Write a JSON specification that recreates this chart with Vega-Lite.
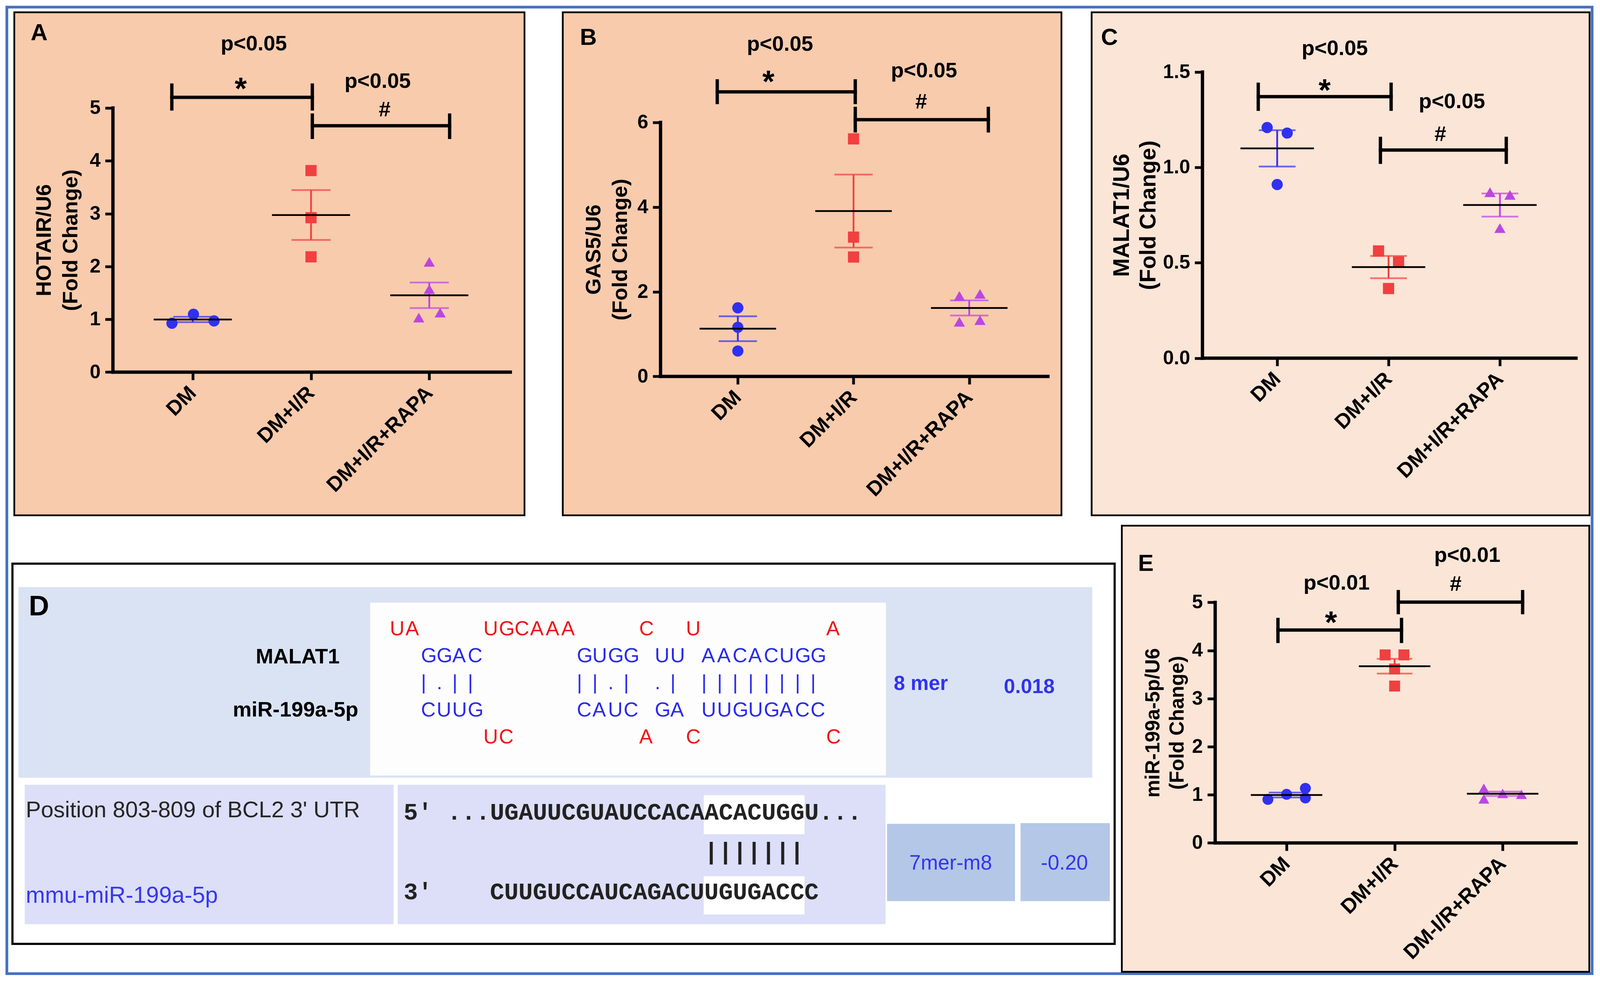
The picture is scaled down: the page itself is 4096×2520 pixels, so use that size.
{
"$schema": "https://vega.github.io/schema/vega-lite/v6.json",
"background": "white",
"padding": {"left": 13.6, "top": 14.6, "right": 4, "bottom": 4},
"bounds": "flush",
"columns": 3,
"align": "each",
"spacing": {"row": 25.7, "column": 77},
"config": {
  "font": "Liberation Sans",
  "view": {"stroke": "black", "strokeWidth": 4.5},
  "axis": {"domain": false, "grid": false, "labelFont": "Liberation Sans", "labelFontWeight": "bold", "labelFontSize": 50, "labelColor": "black", "labelLimit": 0, "tickColor": "black", "tickWidth": 7, "tickSize": 20, "labelPadding": 12, "titleFont": "Liberation Sans", "titleFontWeight": "bold", "titleFontSize": 54, "titleColor": "black", "titleLineHeight": 68, "labelOverlap": false, "labelBound": false, "labelFlush": false},
  "axisX": {"labelAngle": -45, "labelAlign": "right", "labelBaseline": "middle", "labelFontSize": 53, "labelPadding": 25},
  "axisY": {"titleAngle": -90, "titleAlign": "center", "titleBaseline": "middle"}
},
"concat": [
{
  "width": 1306.1, "height": 1288.1,
  "view": {"fill": "#F8CBAD"},
  "data": {"values": [
      {"g":"DM","gx":1,"px":0.824,"v":0.925},{"g":"DM","gx":1,"px":1.006,"v":1.095},{"g":"DM","gx":1,"px":1.18,"v":0.969},
      {"g":"DM+I/R","gx":2,"px":2.0,"v":3.815},{"g":"DM+I/R","gx":2,"px":2.0,"v":2.923},{"g":"DM+I/R","gx":2,"px":2.0,"v":2.182},
      {"g":"DM+I/R+RAPA","gx":3,"px":3.0,"v":2.087},{"g":"DM+I/R+RAPA","gx":3,"px":3.0,"v":1.572},{"g":"DM+I/R+RAPA","gx":3,"px":2.911,"v":1.032},{"g":"DM+I/R+RAPA","gx":3,"px":3.092,"v":1.126}]},
  "layer": [
    {"mark": {"type": "point", "filled": true, "opacity": 1, "size": 820, "strokeWidth": 0},
     "encoding": {
      "x": {"field": "px", "type": "quantitative", "scale": {"domain": [-0.509, 3.805], "nice": false, "zero": false}, "axis": {"values": [1,2,3], "labelExpr": "datum.value == 1 ? 'DM' : datum.value == 2 ? 'DM+I/R' : 'DM+I/R+RAPA'", "offset": -366.7, "title": null}},
      "y": {"field": "v", "type": "quantitative", "scale": {"domain": [-2.71, 6.81], "nice": false, "zero": false}},
      "color": {"field": "g", "type": "nominal", "scale": {"domain": ["DM","DM+I/R","DM+I/R+RAPA"], "range": ["#3030F0","#F04040","#BC46E2"]}, "legend": null},
      "shape": {"field": "g", "type": "nominal", "scale": {"domain": ["DM","DM+I/R","DM+I/R+RAPA"], "range": ["circle","square","triangle-up"]}, "legend": null}}},
    {"mark": {"type": "errorbar", "extent": "stderr", "orient": "vertical", "ticks": true, "size": 100, "thickness": 4.5},
     "encoding": {"x": {"field": "gx", "type": "quantitative"}, "y": {"field": "v", "type": "quantitative", "axis": {"values": [0,1,2,3,4,5], "format": "d", "offset": -252.5, "title": ["HOTAIR/U6", "(Fold  Change)"], "titleX": -176, "titleY": 583.1}}, "color": {"field": "g", "type": "nominal", "legend": null}}},
    {"mark": {"type": "tick", "orient": "horizontal", "size": 200, "thickness": 4.5, "color": "black"},
     "encoding": {"x": {"field": "gx", "type": "quantitative"}, "y": {"aggregate": "mean", "field": "v", "type": "quantitative"}}},
    {"data": {"values": [
      {"x":0.325,"x2":0.325,"y":0,"y2":5},{"x":0.325,"x2":3.685,"y":0,"y2":0},
      {"x":0.823,"x2":2.011,"y":5.202,"y2":5.202},{"x":0.823,"x2":0.823,"y":4.982,"y2":5.433},{"x":2.011,"x2":2.011,"y":4.982,"y2":5.433},
      {"x":2.011,"x2":3.172,"y":4.664,"y2":4.664},{"x":2.011,"x2":2.011,"y":4.444,"y2":4.865},{"x":3.172,"x2":3.172,"y":4.444,"y2":4.865}]},
     "mark": {"type": "rule", "color": "black", "strokeWidth": 8.5, "strokeCap": "square"},
     "encoding": {"x": {"field": "x", "type": "quantitative"}, "x2": {"field": "x2"}, "y": {"field": "y", "type": "quantitative"}, "y2": {"field": "y2"}}},
    {"data": {"values": [{"x":1.516,"y":6.207,"t":"p<0.05"},{"x":2.563,"y":5.496,"t":"p<0.05"},{"x":2.623,"y":4.96,"t":"#"}]},
     "mark": {"type": "text", "fontSize": 54, "fontWeight": "bold", "color": "black", "align": "center", "baseline": "middle"},
     "encoding": {"x": {"field": "x", "type": "quantitative"}, "y": {"field": "y", "type": "quantitative"}, "text": {"field": "t"}}},
    {"data": {"values": [{"x":1.406,"y":5.347,"t":"*"}]},
     "mark": {"type": "text", "fontSize": 80, "fontWeight": "bold", "color": "black", "align": "center", "baseline": "middle"},
     "encoding": {"x": {"field": "x", "type": "quantitative"}, "y": {"field": "y", "type": "quantitative"}, "text": {"field": "t"}}},
    {"data": {"values": [{"x":-0.299,"y":6.418,"t":"A"}]},
     "mark": {"type": "text", "fontSize": 60, "fontWeight": "bold", "color": "black", "align": "center", "baseline": "middle"},
     "encoding": {"x": {"field": "x", "type": "quantitative"}, "y": {"field": "y", "type": "quantitative"}, "text": {"field": "t"}}}
  ]
},
{
  "width": 1296.7, "height": 1288.1,
  "view": {"stroke": null},
  "data": {"values": [
      {"g":"DM","gx":1,"px":1.0,"v":1.62},{"g":"DM","gx":1,"px":1.0,"v":1.16},{"g":"DM","gx":1,"px":1.0,"v":0.60},
      {"g":"DM+I/R","gx":2,"px":2.0,"v":5.61},{"g":"DM+I/R","gx":2,"px":2.0,"v":3.29},{"g":"DM+I/R","gx":2,"px":2.0,"v":2.82},
      {"g":"DM+I/R+RAPA","gx":3,"px":2.915,"v":1.90},{"g":"DM+I/R+RAPA","gx":3,"px":3.093,"v":1.95},{"g":"DM+I/R+RAPA","gx":3,"px":2.915,"v":1.29},{"g":"DM+I/R+RAPA","gx":3,"px":3.093,"v":1.33}]},
  "layer": [
    {"data": {"values": [{"x": -0.513, "x2": 3.797, "y": -3.28, "y2": 8.599}]},
     "mark": {"type": "rect", "fill": "#F8CBAD", "stroke": "black", "strokeWidth": 4.5},
     "encoding": {"x": {"field": "x", "type": "quantitative"}, "x2": {"field": "x2"}, "y": {"field": "y", "type": "quantitative"}, "y2": {"field": "y2"}}},
    {"mark": {"type": "point", "filled": true, "opacity": 1, "size": 820, "strokeWidth": 0},
     "encoding": {
      "x": {"field": "px", "type": "quantitative", "scale": {"domain": [-0.5809, 3.797], "nice": false, "zero": false}, "axis": {"zindex": 2, "values": [1,2,3], "labelExpr": "datum.value == 1 ? 'DM' : datum.value == 2 ? 'DM+I/R' : 'DM+I/R+RAPA'", "offset": -355.6, "title": null}},
      "y": {"field": "v", "type": "quantitative", "scale": {"domain": [-3.28, 8.599], "nice": false, "zero": false}},
      "color": {"field": "g", "type": "nominal", "scale": {"domain": ["DM","DM+I/R","DM+I/R+RAPA"], "range": ["#3030F0","#F04040","#BC46E2"]}, "legend": null},
      "shape": {"field": "g", "type": "nominal", "scale": {"domain": ["DM","DM+I/R","DM+I/R+RAPA"], "range": ["circle","square","triangle-up"]}, "legend": null}}},
    {"mark": {"type": "errorbar", "extent": "stderr", "orient": "vertical", "ticks": true, "size": 98, "thickness": 4.5},
     "encoding": {"x": {"field": "gx", "type": "quantitative"}, "y": {"field": "v", "type": "quantitative", "axis": {"zindex": 2, "values": [0,2,4,6], "format": "d", "offset": -270.4, "title": ["GAS5/U6", "(Fold  Change)"], "titleX": -170, "titleY": 607.2}}, "color": {"field": "g", "type": "nominal", "legend": null}}},
    {"mark": {"type": "tick", "orient": "horizontal", "size": 196, "thickness": 4.5, "color": "black"},
     "encoding": {"x": {"field": "gx", "type": "quantitative"}, "y": {"aggregate": "mean", "field": "v", "type": "quantitative"}}},
    {"data": {"values": [
      {"x":0.332,"x2":0.332,"y":0,"y2":6},{"x":0.332,"x2":3.68,"y":0,"y2":0},
      {"x":0.822,"x2":2.015,"y":6.722,"y2":6.722},{"x":0.822,"x2":0.822,"y":6.47,"y2":6.98},{"x":2.015,"x2":2.015,"y":6.47,"y2":6.98},
      {"x":2.015,"x2":3.165,"y":6.063,"y2":6.063},{"x":2.015,"x2":2.015,"y":5.80,"y2":6.33},{"x":3.165,"x2":3.165,"y":5.80,"y2":6.33}]},
     "mark": {"type": "rule", "color": "black", "strokeWidth": 8.5, "strokeCap": "square"},
     "encoding": {"x": {"field": "x", "type": "quantitative"}, "x2": {"field": "x2"}, "y": {"field": "y", "type": "quantitative"}, "y2": {"field": "y2"}}},
    {"data": {"values": [{"x":1.364,"y":7.835,"t":"p<0.05"},{"x":2.609,"y":7.216,"t":"p<0.05"},{"x":2.585,"y":6.47,"t":"#"}]},
     "mark": {"type": "text", "fontSize": 54, "fontWeight": "bold", "color": "black", "align": "center", "baseline": "middle"},
     "encoding": {"x": {"field": "x", "type": "quantitative"}, "y": {"field": "y", "type": "quantitative"}, "text": {"field": "t"}}},
    {"data": {"values": [{"x":1.264,"y":6.934,"t":"*"}]},
     "mark": {"type": "text", "fontSize": 80, "fontWeight": "bold", "color": "black", "align": "center", "baseline": "middle"},
     "encoding": {"x": {"field": "x", "type": "quantitative"}, "y": {"field": "y", "type": "quantitative"}, "text": {"field": "t"}}},
    {"data": {"values": [{"x":-0.292,"y":8.0,"t":"B"}]},
     "mark": {"type": "text", "fontSize": 60, "fontWeight": "bold", "color": "black", "align": "center", "baseline": "middle"},
     "encoding": {"x": {"field": "x", "type": "quantitative"}, "y": {"field": "y", "type": "quantitative"}, "text": {"field": "t"}}}
  ]
},
{
  "width": 1274.7, "height": 1288.1,
  "view": {"fill": "#FBE5D6"},
  "data": {"values": [
      {"g":"DM","gx":1,"px":0.91,"v":1.209},{"g":"DM","gx":1,"px":1.09,"v":1.18},{"g":"DM","gx":1,"px":1.0,"v":0.91},
      {"g":"DM+I/R","gx":2,"px":1.91,"v":0.562},{"g":"DM+I/R","gx":2,"px":2.09,"v":0.505},{"g":"DM+I/R","gx":2,"px":2.0,"v":0.365},
      {"g":"DM+I/R+RAPA","gx":3,"px":2.911,"v":0.870},{"g":"DM+I/R+RAPA","gx":3,"px":3.09,"v":0.856},{"g":"DM+I/R+RAPA","gx":3,"px":3.0,"v":0.682}]},
  "layer": [
    {"mark": {"type": "point", "filled": true, "opacity": 1, "size": 820, "strokeWidth": 0},
     "encoding": {
      "x": {"field": "px", "type": "quantitative", "scale": {"domain": [-0.666, 3.805], "nice": false, "zero": false}, "axis": {"values": [1,2,3], "labelExpr": "datum.value == 1 ? 'DM' : datum.value == 2 ? 'DM+I/R' : 'DM+I/R+RAPA'", "offset": -402.5, "title": null}},
      "y": {"field": "v", "type": "quantitative", "scale": {"domain": [-0.824, 1.813], "nice": false, "zero": false}},
      "color": {"field": "g", "type": "nominal", "scale": {"domain": ["DM","DM+I/R","DM+I/R+RAPA"], "range": ["#3030F0","#F04040","#BC46E2"]}, "legend": null},
      "shape": {"field": "g", "type": "nominal", "scale": {"domain": ["DM","DM+I/R","DM+I/R+RAPA"], "range": ["circle","square","triangle-up"]}, "legend": null}}},
    {"mark": {"type": "errorbar", "extent": "stderr", "orient": "vertical", "ticks": true, "size": 94, "thickness": 4.5},
     "encoding": {"x": {"field": "gx", "type": "quantitative"}, "y": {"field": "v", "type": "quantitative", "axis": {"values": [0,0.5,1,1.5], "format": ".1f", "offset": -283.7, "title": ["MALAT1/U6", "(Fold Change)"], "titleX": -205.6, "titleY": 519.2, "titleFontSize": 57}}, "color": {"field": "g", "type": "nominal", "legend": null}}},
    {"mark": {"type": "tick", "orient": "horizontal", "size": 188, "thickness": 4.5, "color": "black"},
     "encoding": {"x": {"field": "gx", "type": "quantitative"}, "y": {"aggregate": "mean", "field": "v", "type": "quantitative"}}},
    {"data": {"values": [
      {"x":0.329,"x2":0.329,"y":0,"y2":1.5},{"x":0.329,"x2":3.683,"y":0,"y2":0},
      {"x":0.830,"x2":2.023,"y":1.371,"y2":1.371},{"x":0.830,"x2":0.830,"y":1.305,"y2":1.436},{"x":2.023,"x2":2.023,"y":1.305,"y2":1.436},
      {"x":1.927,"x2":3.057,"y":1.091,"y2":1.091},{"x":1.927,"x2":1.927,"y":1.027,"y2":1.152},{"x":3.057,"x2":3.057,"y":1.027,"y2":1.152}]},
     "mark": {"type": "rule", "color": "black", "strokeWidth": 8.5, "strokeCap": "square"},
     "encoding": {"x": {"field": "x", "type": "quantitative"}, "x2": {"field": "x2"}, "y": {"field": "y", "type": "quantitative"}, "y2": {"field": "y2"}}},
    {"data": {"values": [{"x":1.517,"y":1.622,"t":"p<0.05"},{"x":2.569,"y":1.343,"t":"p<0.05"},{"x":2.465,"y":1.171,"t":"#"}]},
     "mark": {"type": "text", "fontSize": 54, "fontWeight": "bold", "color": "black", "align": "center", "baseline": "middle"},
     "encoding": {"x": {"field": "x", "type": "quantitative"}, "y": {"field": "y", "type": "quantitative"}, "text": {"field": "t"}}},
    {"data": {"values": [{"x":1.426,"y":1.399,"t":"*"}]},
     "mark": {"type": "text", "fontSize": 80, "fontWeight": "bold", "color": "black", "align": "center", "baseline": "middle"},
     "encoding": {"x": {"field": "x", "type": "quantitative"}, "y": {"field": "y", "type": "quantitative"}, "text": {"field": "t"}}},
    {"data": {"values": [{"x":-0.506,"y":1.679,"t":"C"}]},
     "mark": {"type": "text", "fontSize": 60, "fontWeight": "bold", "color": "black", "align": "center", "baseline": "middle"},
     "encoding": {"x": {"field": "x", "type": "quantitative"}, "y": {"field": "y", "type": "quantitative"}, "text": {"field": "t"}}}
  ]
},
{
  "width": 1306.1, "height": 1142.4,
  "view": {"stroke": null},
  "resolve": {"scale": {"x": "independent", "y": "independent", "color": "independent", "fill": "independent"}},
  "layer": [
    {"data": {"values": [{"x":18,"x2":4281,"y":19,"y2":2619}]},
     "mark": {"type": "rect", "fill": "transparent", "stroke": "#4472C4", "strokeWidth": 7},
     "encoding": {"x": {"field": "x", "type": "quantitative", "scale": {"domain": [38, 1410], "nice": false, "zero": false}, "axis": null}, "x2": {"field": "x2"}, "y": {"field": "y", "type": "quantitative", "scale": {"domain": [1414, 2614], "reverse": true, "nice": false, "zero": false}, "axis": null}, "y2": {"field": "y2"}}},
    {"data": {"values": [{"x":33,"x2":2997,"y":1516,"y2":2539}]},
     "mark": {"type": "rect", "fill": "white", "stroke": "black", "strokeWidth": 5.5},
     "encoding": {"x": {"field": "x", "type": "quantitative", "scale": {"domain": [38, 1410], "nice": false, "zero": false}, "axis": null}, "x2": {"field": "x2"}, "y": {"field": "y", "type": "quantitative", "scale": {"domain": [1414, 2614], "reverse": true, "nice": false, "zero": false}, "axis": null}, "y2": {"field": "y2"}}},
    {"data": {"values": [
      {"part":"header","x":49,"x2":2937,"y":1579,"y2":2092},
      {"part":"duplex","x":995,"x2":2382,"y":1621,"y2":2086},
      {"part":"site","x":66,"x2":1058,"y":2111,"y2":2486},
      {"part":"site","x":1069,"x2":2381,"y":2111,"y2":2486},
      {"part":"seed","x":1892,"x2":2163,"y":2139,"y2":2244},
      {"part":"seed","x":1892,"x2":2163,"y":2357,"y2":2460},
      {"part":"score","x":2385,"x2":2729,"y":2216,"y2":2424},
      {"part":"score","x":2744,"x2":2984,"y":2214,"y2":2424}]},
     "mark": {"type": "rect"},
     "encoding": {"x": {"field": "x", "type": "quantitative", "scale": {"domain": [38, 1410], "nice": false, "zero": false}, "axis": null}, "x2": {"field": "x2"}, "y": {"field": "y", "type": "quantitative", "scale": {"domain": [1414, 2614], "reverse": true, "nice": false, "zero": false}, "axis": null}, "y2": {"field": "y2"},
       "fill": {"field": "part", "type": "nominal", "scale": {"domain": ["header","duplex","site","seed","score"], "range": ["#DAE3F3","#FDFDFD","#DCDFF7","#FFFFFF","#B4C7E7"]}, "legend": null}}},
    {"data": {"values": [{"x":77,"y":1632,"t":"D"}]},
     "mark": {"type": "text", "fontSize": 72, "fontWeight": "bold", "color": "black", "align": "left", "baseline": "middle"},
     "encoding": {"x": {"field": "x", "type": "quantitative", "scale": {"domain": [38, 1410], "nice": false, "zero": false}, "axis": null}, "y": {"field": "y", "type": "quantitative", "scale": {"domain": [1414, 2614], "reverse": true, "nice": false, "zero": false}, "axis": null}, "text": {"field": "t"}}},
    {"data": {"values": [{"x":913,"y":1768,"t":"MALAT1"},{"x":963,"y":1911,"t":"miR-199a-5p"}]},
     "mark": {"type": "text", "fontSize": 54, "fontWeight": "bold", "color": "black", "align": "right", "baseline": "middle"},
     "encoding": {"x": {"field": "x", "type": "quantitative", "scale": {"domain": [38, 1410], "nice": false, "zero": false}, "axis": null}, "y": {"field": "y", "type": "quantitative", "scale": {"domain": [1414, 2614], "reverse": true, "nice": false, "zero": false}, "axis": null}, "text": {"field": "t"}}},
    {"data": {"values": [{"x":2403,"y":1839,"t":"8 mer"},{"x":2699,"y":1848,"t":"0.018"}]},
     "mark": {"type": "text", "fontSize": 52, "fontWeight": "bold", "color": "#3232F0", "align": "left", "baseline": "middle"},
     "encoding": {"x": {"field": "x", "type": "quantitative", "scale": {"domain": [38, 1410], "nice": false, "zero": false}, "axis": null}, "y": {"field": "y", "type": "quantitative", "scale": {"domain": [1414, 2614], "reverse": true, "nice": false, "zero": false}, "axis": null}, "text": {"field": "t"}}},
    {"data": {"values": [{"x":69,"y":2180,"t":"Position 803-809 of BCL2 3' UTR"}]},
     "mark": {"type": "text", "fontSize": 58, "font": "Liberation Sans", "color": "#262626", "align": "left", "baseline": "middle"},
     "encoding": {"x": {"field": "x", "type": "quantitative", "scale": {"domain": [38, 1410], "nice": false, "zero": false}, "axis": null}, "y": {"field": "y", "type": "quantitative", "scale": {"domain": [1414, 2614], "reverse": true, "nice": false, "zero": false}, "axis": null}, "text": {"field": "t"}}},
    {"data": {"values": [{"x":69,"y":2410,"t":"mmu-miR-199a-5p"}]},
     "mark": {"type": "text", "fontSize": 59, "font": "Liberation Sans", "color": "#3838F0", "align": "left", "baseline": "middle"},
     "encoding": {"x": {"field": "x", "type": "quantitative", "scale": {"domain": [38, 1410], "nice": false, "zero": false}, "axis": null}, "y": {"field": "y", "type": "quantitative", "scale": {"domain": [1414, 2614], "reverse": true, "nice": false, "zero": false}, "axis": null}, "text": {"field": "t"}}},
    {"data": {"values": [
      {"x":1085,"y":2186,"t":"5'"},{"x":1202,"y":2186,"t":"...UGAUUCGUAUCCACAACACUGGU..."},
      {"x":1893,"y":2292,"t":"|||||||"},
      {"x":1085,"y":2400,"t":"3'"},{"x":1317,"y":2400,"t":"CUUGUCCAUCAGACUUGUGACCC"}]},
     "mark": {"type": "text", "fontSize": 61, "font": "Liberation Mono", "fontWeight": "bold", "color": "#222222", "align": "left", "baseline": "middle"},
     "encoding": {"x": {"field": "x", "type": "quantitative", "scale": {"domain": [38, 1410], "nice": false, "zero": false}, "axis": null}, "y": {"field": "y", "type": "quantitative", "scale": {"domain": [1414, 2614], "reverse": true, "nice": false, "zero": false}, "axis": null}, "text": {"field": "t"}}},
    {"data": {"values": [{"x":2556,"y":2322,"t":"7mer-m8"},{"x":2862,"y":2322,"t":"-0.20"}]},
     "mark": {"type": "text", "fontSize": 53, "color": "#3535F0", "align": "center", "baseline": "middle"},
     "encoding": {"x": {"field": "x", "type": "quantitative", "scale": {"domain": [38, 1410], "nice": false, "zero": false}, "axis": null}, "y": {"field": "y", "type": "quantitative", "scale": {"domain": [1414, 2614], "reverse": true, "nice": false, "zero": false}, "axis": null}, "text": {"field": "t"}}},
    {"data": {"values": [
      {"col":0,"row":0,"ch":"U","k":"unpaired"},{"col":1,"row":0,"ch":"A","k":"unpaired"},
      {"col":6,"row":0,"ch":"U","k":"unpaired"},{"col":7,"row":0,"ch":"G","k":"unpaired"},{"col":8,"row":0,"ch":"C","k":"unpaired"},{"col":9,"row":0,"ch":"A","k":"unpaired"},{"col":10,"row":0,"ch":"A","k":"unpaired"},{"col":11,"row":0,"ch":"A","k":"unpaired"},
      {"col":16,"row":0,"ch":"C","k":"unpaired"},{"col":19,"row":0,"ch":"U","k":"unpaired"},{"col":28,"row":0,"ch":"A","k":"unpaired"},
      {"col":2,"row":1,"ch":"G","k":"paired"},{"col":3,"row":1,"ch":"G","k":"paired"},{"col":4,"row":1,"ch":"A","k":"paired"},{"col":5,"row":1,"ch":"C","k":"paired"},
      {"col":12,"row":1,"ch":"G","k":"paired"},{"col":13,"row":1,"ch":"U","k":"paired"},{"col":14,"row":1,"ch":"G","k":"paired"},{"col":15,"row":1,"ch":"G","k":"paired"},
      {"col":17,"row":1,"ch":"U","k":"paired"},{"col":18,"row":1,"ch":"U","k":"paired"},
      {"col":20,"row":1,"ch":"A","k":"paired"},{"col":21,"row":1,"ch":"A","k":"paired"},{"col":22,"row":1,"ch":"C","k":"paired"},{"col":23,"row":1,"ch":"A","k":"paired"},{"col":24,"row":1,"ch":"C","k":"paired"},{"col":25,"row":1,"ch":"U","k":"paired"},{"col":26,"row":1,"ch":"G","k":"paired"},{"col":27,"row":1,"ch":"G","k":"paired"},
      {"col":2,"row":2,"ch":"|","k":"paired"},{"col":3,"row":2,"ch":".","k":"paired"},{"col":4,"row":2,"ch":"|","k":"paired"},{"col":5,"row":2,"ch":"|","k":"paired"},
      {"col":12,"row":2,"ch":"|","k":"paired"},{"col":13,"row":2,"ch":"|","k":"paired"},{"col":14,"row":2,"ch":".","k":"paired"},{"col":15,"row":2,"ch":"|","k":"paired"},
      {"col":17,"row":2,"ch":".","k":"paired"},{"col":18,"row":2,"ch":"|","k":"paired"},
      {"col":20,"row":2,"ch":"|","k":"paired"},{"col":21,"row":2,"ch":"|","k":"paired"},{"col":22,"row":2,"ch":"|","k":"paired"},{"col":23,"row":2,"ch":"|","k":"paired"},{"col":24,"row":2,"ch":"|","k":"paired"},{"col":25,"row":2,"ch":"|","k":"paired"},{"col":26,"row":2,"ch":"|","k":"paired"},{"col":27,"row":2,"ch":"|","k":"paired"},
      {"col":2,"row":3,"ch":"C","k":"paired"},{"col":3,"row":3,"ch":"U","k":"paired"},{"col":4,"row":3,"ch":"U","k":"paired"},{"col":5,"row":3,"ch":"G","k":"paired"},
      {"col":12,"row":3,"ch":"C","k":"paired"},{"col":13,"row":3,"ch":"A","k":"paired"},{"col":14,"row":3,"ch":"U","k":"paired"},{"col":15,"row":3,"ch":"C","k":"paired"},
      {"col":17,"row":3,"ch":"G","k":"paired"},{"col":18,"row":3,"ch":"A","k":"paired"},
      {"col":20,"row":3,"ch":"U","k":"paired"},{"col":21,"row":3,"ch":"U","k":"paired"},{"col":22,"row":3,"ch":"G","k":"paired"},{"col":23,"row":3,"ch":"U","k":"paired"},{"col":24,"row":3,"ch":"G","k":"paired"},{"col":25,"row":3,"ch":"A","k":"paired"},{"col":26,"row":3,"ch":"C","k":"paired"},{"col":27,"row":3,"ch":"C","k":"paired"},
      {"col":6,"row":4,"ch":"U","k":"unpaired"},{"col":7,"row":4,"ch":"C","k":"unpaired"},{"col":16,"row":4,"ch":"A","k":"unpaired"},{"col":19,"row":4,"ch":"C","k":"unpaired"},{"col":28,"row":4,"ch":"C","k":"unpaired"}]},
     "mark": {"type": "text", "fontSize": 52, "color": "black", "align": "left", "baseline": "middle"},
     "encoding": {"x": {"field": "col", "type": "quantitative", "scale": {"domain": [-24.105, 8.6396], "nice": false, "zero": false}, "axis": null}, "y": {"field": "row", "type": "quantitative", "scale": {"domain": [-3.8213, 12.6735], "reverse": true, "nice": false, "zero": false}, "axis": null}, "text": {"field": "ch"},
       "color": {"field": "k", "type": "nominal", "scale": {"domain": ["unpaired","paired"], "range": ["#F01414","#2A2AEE"]}, "legend": null}}}
  ]
},
{
  "width": 10, "height": 10,
  "view": {"stroke": null},
  "data": {"values": []},
  "mark": "point"
},
{
  "width": 1274.0, "height": 1142.4,
  "view": {"stroke": null},
  "data": {"values": [
      {"g":"DM","gx":1,"px":0.827,"v":0.904},{"g":"DM","gx":1,"px":1.0,"v":1.01},{"g":"DM","gx":1,"px":1.174,"v":1.135},{"g":"DM","gx":1,"px":1.174,"v":0.935},
      {"g":"DM+I/R","gx":2,"px":1.912,"v":3.909},{"g":"DM+I/R","gx":2,"px":2.086,"v":3.909},{"g":"DM+I/R","gx":2,"px":2.0,"v":3.616},{"g":"DM+I/R","gx":2,"px":2.0,"v":3.261},
      {"g":"DM+I/R+RAPA","gx":3,"px":2.826,"v":1.135},{"g":"DM+I/R+RAPA","gx":3,"px":2.826,"v":0.916},{"g":"DM+I/R+RAPA","gx":3,"px":3.0,"v":1.029},{"g":"DM+I/R+RAPA","gx":3,"px":3.174,"v":1.01}]},
  "layer": [
    {"data": {"values": [{"x": -0.525, "x2": 3.802, "y": -2.679, "y2": 6.595}]},
     "mark": {"type": "rect", "fill": "#FBE5D6", "stroke": "black", "strokeWidth": 4.5},
     "encoding": {"x": {"field": "x", "type": "quantitative"}, "x2": {"field": "x2"}, "y": {"field": "y", "type": "quantitative"}, "y2": {"field": "y2"}}},
    {"mark": {"type": "point", "filled": true, "opacity": 1, "size": 780, "strokeWidth": 0},
     "encoding": {
      "x": {"field": "px", "type": "quantitative", "scale": {"domain": [-0.8045, 3.802], "nice": false, "zero": false}, "axis": {"zindex": 2, "values": [1,2,3], "labelExpr": "datum.value == 1 ? 'DM' : datum.value == 2 ? 'DM+I/R' : 'DM-I/R+RAPA'", "offset": -330.0, "title": null}},
      "y": {"field": "v", "type": "quantitative", "scale": {"domain": [-2.679, 6.595], "nice": false, "zero": false}},
      "color": {"field": "g", "type": "nominal", "scale": {"domain": ["DM","DM+I/R","DM+I/R+RAPA"], "range": ["#3030F0","#F04040","#BC46E2"]}, "legend": null},
      "shape": {"field": "g", "type": "nominal", "scale": {"domain": ["DM","DM+I/R","DM+I/R+RAPA"], "range": ["circle","square","triangle-up"]}, "legend": null}}},
    {"mark": {"type": "errorbar", "extent": "stderr", "orient": "vertical", "ticks": true, "size": 91, "thickness": 4.5},
     "encoding": {"x": {"field": "gx", "type": "quantitative"}, "y": {"field": "v", "type": "quantitative", "axis": {"zindex": 2, "values": [0,1,2,3,4,5], "format": "d", "offset": -316.3, "title": ["miR-199a-5p/U6", "(Fold Change)"], "titleX": -158, "titleY": 504.4, "titleFontSize": 51, "titleLineHeight": 62}}, "color": {"field": "g", "type": "nominal", "legend": null}}},
    {"mark": {"type": "tick", "orient": "horizontal", "size": 183, "thickness": 4.5, "color": "black"},
     "encoding": {"x": {"field": "gx", "type": "quantitative"}, "y": {"aggregate": "mean", "field": "v", "type": "quantitative"}}},
    {"data": {"values": [
      {"x":0.339,"x2":0.339,"y":0,"y2":5},{"x":0.339,"x2":3.68,"y":0,"y2":0},
      {"x":0.920,"x2":2.064,"y":4.426,"y2":4.426},{"x":0.920,"x2":0.920,"y":4.19,"y2":4.645},{"x":2.064,"x2":2.064,"y":4.19,"y2":4.645},
      {"x":2.034,"x2":3.185,"y":5.006,"y2":5.006},{"x":2.034,"x2":2.034,"y":4.788,"y2":5.224},{"x":3.185,"x2":3.185,"y":4.788,"y2":5.224}]},
     "mark": {"type": "rule", "color": "black", "strokeWidth": 8.5, "strokeCap": "square"},
     "encoding": {"x": {"field": "x", "type": "quantitative"}, "x2": {"field": "x2"}, "y": {"field": "y", "type": "quantitative"}, "y2": {"field": "y2"}}},
    {"data": {"values": [{"x":1.463,"y":5.399,"t":"p<0.01"},{"x":2.673,"y":5.976,"t":"p<0.01"},{"x":2.565,"y":5.374,"t":"#"}]},
     "mark": {"type": "text", "fontSize": 54, "fontWeight": "bold", "color": "black", "align": "center", "baseline": "middle"},
     "encoding": {"x": {"field": "x", "type": "quantitative"}, "y": {"field": "y", "type": "quantitative"}, "text": {"field": "t"}}},
    {"data": {"values": [{"x":1.411,"y":4.559,"t":"*"}]},
     "mark": {"type": "text", "fontSize": 80, "fontWeight": "bold", "color": "black", "align": "center", "baseline": "middle"},
     "encoding": {"x": {"field": "x", "type": "quantitative"}, "y": {"field": "y", "type": "quantitative"}, "text": {"field": "t"}}},
    {"data": {"values": [{"x":-0.303,"y":5.798,"t":"E"}]},
     "mark": {"type": "text", "fontSize": 60, "fontWeight": "bold", "color": "black", "align": "center", "baseline": "middle"},
     "encoding": {"x": {"field": "x", "type": "quantitative"}, "y": {"field": "y", "type": "quantitative"}, "text": {"field": "t"}}}
  ]
}
]
}
